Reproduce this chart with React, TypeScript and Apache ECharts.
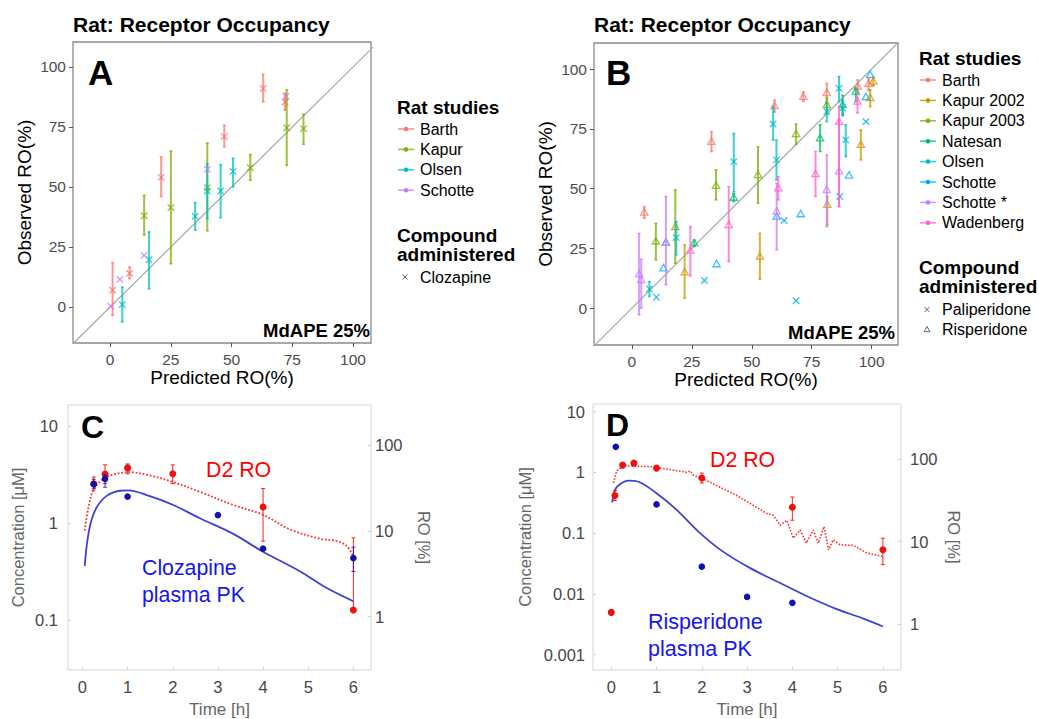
import React, { useEffect, useRef } from "react";
import * as echarts from "echarts";

const FONT = '"Liberation Sans", Arial, Helvetica, sans-serif';

// ---------------- Panel A (clozapine): [predicted, observed, low, high] ----------------
const studiesA = ["Barth", "Kapur", "Olsen", "Schotte"];
const colorsA = ["#F8766D", "#7CAE00", "#00BFC4", "#C77CFF"];
const aBarth = [[1, 7, -3.5, 18.5], [8, 14, 11.8, 16.7], [21, 54, 46, 62.5], [47, 71, 66.7, 75.7], [63, 91, 85.4, 97], [72, 85.4, 82, 89]];
const aKapur = [[14, 38, 30, 46.5], [25, 41.4, 18, 65], [40, 49.7, 31.7, 68.3], [57.7, 58, 52.8, 63.5], [72.7, 74.7, 59, 90.5], [79.6, 74.3, 67.8, 80.3]];
const aOlsen = [[5, 1, -6.2, 8.3], [16, 19.7, 7.6, 31.3], [35, 37.8, 32, 43.5], [40, 48.3, 36.8, 59.7], [45.5, 48.3, 37.2, 59.3], [50.6, 56.5, 50, 62]];
const aSchotte = [[0.3, 0.3, 0.3, 0.3], [4, 11.5, 11.5, 11.5], [14, 21.5, 21.5, 21.5], [40, 57.4, 57.4, 57.4], [72.4, 87.8, 87.8, 87.8]];
const aRows = [aBarth, aKapur, aOlsen, aSchotte];
const compoundsA = ["Clozapine"];

// ---------------- Panel B: [predicted, observed, low, high, compound (0 = paliperidone, 1 = risperidone)] ----------------
const studiesB = ["Barth", "Kapur 2002", "Kapur 2003", "Natesan", "Olsen", "Schotte", "Schotte *", "Wadenberg"];
const colorsB = ["#F8766D", "#CD9600", "#7CAE00", "#00BE67", "#00BFC4", "#00A9FF", "#C77CFF", "#FF61CC"];
const bBarth = [[5.2, 40, 37.6, 42.5, 1], [33.2, 69.6, 65.5, 73.8, 1], [59.5, 84.5, 82, 87, 1], [71.5, 88.4, 86.5, 90.5, 1], [81.3, 90, 86, 94, 1], [94.2, 92.7, 90, 95.5, 1], [98.7, 93.8, 91, 96, 1]];
const bKapur2002 = [[22, 15, 4.2, 26.5, 1], [53.4, 21.6, 12.1, 31.3, 1], [81.5, 43.2, 34.9, 46.7, 1], [95.5, 68.3, 62, 74.6, 1], [99.4, 87.9, 84.3, 91.3, 1], [100.7, 94.8, 93, 96.5, 1]];
const bKapur2003 = [[10, 27.9, 20.2, 35.5, 1], [18.1, 33.9, 18.8, 49.5, 1], [35.1, 51.2, 45.3, 57.9, 1], [52.6, 55.7, 43.9, 67.5, 1], [68.5, 72.8, 68.5, 77, 1], [81.3, 85, 81, 88, 1]];
const bNatesan = [[26, 27.2, 25.8, 28.5, 1], [42.5, 46.2, 44.6, 48, 1], [78.5, 71, 65.5, 76.7, 1], [87.9, 85, 81, 89, 1], [93.4, 90.6, 86.4, 92, 1]];
const bOlsen = [[7.3, 8, 4.9, 11.1, 0], [18.5, 29.5, 22.3, 36.2, 0], [42.5, 61.3, 48.7, 73.1, 0], [58.9, 77, 70.3, 84.3, 0], [60.3, 62, 53.6, 70.3, 0], [81.3, 82.2, 78, 85.8, 0], [86.4, 92, 86.4, 96.9, 0], [87.9, 83.7, 80.5, 87, 0], [89.2, 70.4, 63.4, 76.7, 0]];
const bSchotte = [[10.2, 4.6, 4.6, 4.6, 0], [13.2, 16.7, 16.7, 16.7, 1], [14.2, 27.4, 27.4, 27.4, 1], [30.3, 11.6, 11.6, 11.6, 0], [35.3, 18.4, 18.4, 18.4, 1], [60.4, 38.3, 38.3, 38.3, 1], [63.5, 36.6, 36.6, 36.6, 0], [68.5, 3.1, 3.1, 3.1, 0], [70.4, 39.3, 39.3, 39.3, 1], [86.7, 46.7, 46.7, 46.7, 0], [90.6, 55.5, 55.5, 55.5, 1], [97.6, 78, 78, 78, 0], [97.6, 88.3, 88.3, 88.3, 1], [99.4, 97.6, 97.6, 97.6, 1]];
const bSchotteStar = [[3, 14.3, -2.8, 31.3, 1], [3.9, 11.8, 0, 20.5, 1], [14.2, 27.4, 9.8, 46.7, 1], [60.4, 40.4, 24.4, 52.2, 1], [81.3, 49.4, 34.1, 64.1, 1], [86.4, 57.2, 42.5, 78.8, 1]];
const bWadenberg = [[24.4, 24.1, 13.5, 34.1, 1], [40.4, 34.8, 19.5, 50.8, 1], [61.1, 50.1, 45.3, 55, 1], [76.6, 56.1, 46.7, 65.5, 1], [86.4, 78, 42.5, 84.3, 1], [94.1, 86.4, 81.6, 90, 1]];
const bRows = [bBarth, bKapur2002, bKapur2003, bNatesan, bOlsen, bSchotte, bSchotteStar, bWadenberg];
const compoundsB = ["Paliperidone", "Risperidone"];

const identityLine = [-20, 120];
const roTicks = [0, 25, 50, 75, 100];

// ---------------- Panel C (clozapine PK / D2 RO) ----------------
const cTimeRO = [0.25, 0.5, 1, 2, 4, 6];
const cRO = [35.6, 46, 54.4, 46.4, 19, 1.19];
const cROlo = [29.9, 35.6, 46.4, 35.6, 7.6, 1.19];
const cROhi = [42.6, 59, 60.5, 59, 31.2, 8.3];
const cTimePK = [0.25, 0.5, 1, 3, 4, 6];
const cPK = [2.54, 2.88, 1.89, 1.22, 0.55, 0.44];
const cPKlo = [2.3, 2.36, 1.89, 1.22, 0.55, 0.32];
const cPKhi = [2.85, 3.16, 1.89, 1.22, 0.55, 0.57];
const cModelT = [0.05, 0.1, 0.18, 0.31, 0.53, 0.83, 1.01, 1.49, 2.01, 2.6, 3.34, 4, 4.82, 5.41, 6];
const cModelConc = [0.365, 0.62, 1.0, 1.45, 1.91, 2.17, 2.19, 1.91, 1.55, 1.13, 0.78, 0.51, 0.32, 0.216, 0.158];
const cModelROT = [0.05, 0.13, 0.24, 0.46, 0.75, 1.05, 1.49, 2.01, 2.6, 3.34, 4, 4.6, 5.26, 5.63, 5.85, 6];
const cModelRO = [10.1, 18.4, 29.8, 40.6, 46.4, 48.5, 44.4, 37.2, 28.6, 20.1, 15.4, 10.4, 8.1, 7.6, 6.7, 5.0];

// ---------------- Panel D (risperidone PK / D2 RO) ----------------
const dTimeRO = [0, 0.08, 0.25, 0.5, 1, 2, 4, 6];
const dRO = [1.38, 36.3, 85, 89.8, 78.2, 59.3, 26.1, 7.95];
const dROlo = [1.38, 31.6, 85, 89.8, 78.2, 51.6, 18.2, 5.25];
const dROhi = [1.38, 41.7, 85, 89.8, 78.2, 68, 34.8, 11];
const dTimePK = [0.1, 1, 2, 3, 4];
const dPK = [2.63, 0.296, 0.028, 0.0089, 0.0071];
const dModelT = [0.02, 0.09, 0.2, 0.38, 0.6, 0.97, 1.42, 1.93, 2.46, 3.05, 3.72, 4.3, 4.98, 5.57, 6];
const dModelConc = [0.32, 0.53, 0.645, 0.73, 0.7, 0.47, 0.25, 0.105, 0.05, 0.027, 0.0152, 0.0093, 0.0056, 0.0039, 0.0029];
const dModelROT = [0.05, 0.12, 0.27, 0.93, 1.67, 1.75, 1.8, 2.11, 2.77, 3.44, 3.58, 3.73, 3.88, 4.02, 4.17, 4.31, 4.46, 4.57, 4.7, 4.8, 4.9, 5.06, 5.35, 5.64, 6];
const dModelRO = [51.6, 72.6, 83.4, 81, 69.4, 72, 65, 55, 36.4, 21.9, 20.9, 15.8, 18.2, 11, 13.8, 9.6, 13.8, 9.6, 15.2, 7.9, 10.5, 9.1, 9, 7.3, 6.6];

const timeTicks = [0, 1, 2, 3, 4, 5, 6];
const cConcTicks = [0.1, 1, 10];
const dConcTicks = [0.001, 0.01, 0.1, 1, 10];
const roLogTicks = [1, 10, 100];

const L = (v: number) => Math.log10(v);

function pointRange(name: string, rows: number[][], color: string, xi: number, yi: number, st: any) {
  return {
    type: "custom",
    name,
    xAxisIndex: xi,
    yAxisIndex: yi,
    clip: true,
    z: st.z ?? 3,
    data: rows,
    encode: { x: 0, y: 1 },
    renderItem: (_p: any, api: any) => {
      const x = api.value(0);
      const y = api.value(1);
      const lo = api.value(2);
      const hi = api.value(3);
      const kind = st.marker != null ? st.marker : api.value(4);
      const p = api.coord([x, y]);
      const ch: any[] = [];
      if (hi - lo > 1e-6) {
        const a = api.coord([x, lo]);
        const b = api.coord([x, hi]);
        ch.push({ type: "line", shape: { x1: a[0], y1: a[1], x2: b[0], y2: b[1] }, style: { stroke: color, lineWidth: st.barW, opacity: st.alpha } });
        [a, b].forEach((e: number[]) =>
          ch.push({ type: "line", shape: { x1: e[0] - st.cap, y1: e[1], x2: e[0] + st.cap, y2: e[1] }, style: { stroke: color, lineWidth: st.capW, opacity: st.alpha } })
        );
      }
      const s = st.size;
      if (kind === 0) {
        ch.push({ type: "line", shape: { x1: p[0] - s, y1: p[1] - s, x2: p[0] + s, y2: p[1] + s }, style: { stroke: color, lineWidth: 1.4, opacity: st.alpha } });
        ch.push({ type: "line", shape: { x1: p[0] - s, y1: p[1] + s, x2: p[0] + s, y2: p[1] - s }, style: { stroke: color, lineWidth: 1.4, opacity: st.alpha } });
      } else if (kind === 1) {
        ch.push({
          type: "polygon",
          shape: { points: [[p[0], p[1] - s * 1.2], [p[0] - s * 1.15, p[1] + s * 0.8], [p[0] + s * 1.15, p[1] + s * 0.8]] },
          style: { fill: "none", stroke: color, lineWidth: 1.3, opacity: st.alpha },
        });
      } else {
        ch.push({ type: "circle", shape: { cx: p[0], cy: p[1], r: s }, style: { fill: color } });
      }
      return { type: "group", children: ch };
    },
  };
}

function logFormatter(ticks: number[]) {
  return (v: number) => {
    const t = ticks.find((k) => Math.abs(L(k) - v) < 1e-6);
    return t != null ? String(t) : "";
  };
}

const hiddenLine = { show: false, onZero: false };

function roAxis(gridIndex: number, min: number, max: number, name: string, vertical: boolean) {
  return {
    type: "value",
    gridIndex,
    min,
    max,
    axisLine: hiddenLine,
    splitLine: { show: false },
    axisTick: { show: true, length: 4, lineStyle: { color: "#555", width: 1 }, customValues: roTicks },
    axisLabel: { customValues: roTicks, color: "#4D4D4D", fontSize: 15.5, fontFamily: FONT, margin: vertical ? 7 : 8 },
    name,
    nameLocation: "middle",
    nameGap: vertical ? 39 : 25,
    nameTextStyle: { color: "#000", fontSize: 19, fontFamily: FONT },
  };
}

function logAxis(gridIndex: number, min: number, max: number, ticks: number[], name: string, right: boolean, gap: number, margin: number) {
  const vals = ticks.map(L);
  return {
    type: "value",
    gridIndex,
    position: right ? "right" : "left",
    min,
    max,
    axisLine: hiddenLine,
    splitLine: { show: false },
    axisTick: { show: true, inside: true, length: 3, customValues: vals, lineStyle: { color: "#d0d0d0" } },
    axisLabel: { customValues: vals, formatter: logFormatter(ticks), color: "#474747", fontSize: 16.5, fontFamily: FONT, margin },
    name,
    nameLocation: "middle",
    nameGap: gap,
    nameRotate: right ? -90 : 90,
    nameTextStyle: { color: "#666", fontSize: 16.5, fontFamily: FONT },
  };
}

function timeAxis(gridIndex: number, min: number, max: number) {
  return {
    type: "value",
    gridIndex,
    min,
    max,
    axisLine: hiddenLine,
    splitLine: { show: false },
    axisTick: { show: true, inside: true, length: 3, customValues: timeTicks, lineStyle: { color: "#d0d0d0" } },
    axisLabel: { customValues: timeTicks, color: "#474747", fontSize: 16.5, fontFamily: FONT, margin: 8 },
    name: "Time [h]",
    nameLocation: "middle",
    nameGap: 31,
    nameTextStyle: { color: "#666", fontSize: 17, fontFamily: FONT },
  };
}

function text(x: number, y: number, t: string, size: number, opts: any = {}) {
  return {
    type: "text",
    x,
    y,
    silent: true,
    style: {
      text: t,
      fontSize: size,
      fontFamily: FONT,
      fontWeight: opts.bold ? "bold" : "normal",
      fill: opts.fill ?? "#000",
      align: opts.align ?? "left",
      verticalAlign: "middle",
    },
  };
}

function legend(x: number, titleY: number, names: string[], colors: string[], itemY0: number, step: number, compTitleY: number, compounds: string[], compY0: number, compStep: number, markers: number[]) {
  const els: any[] = [];
  els.push(text(x, titleY, "Rat studies", 19, { bold: true }));
  names.forEach((n, i) => {
    const y = itemY0 + i * step;
    els.push({ type: "line", silent: true, shape: { x1: x + 1, y1: y, x2: x + 17, y2: y }, style: { stroke: colors[i], lineWidth: 1.5, opacity: 0.8 } });
    els.push({ type: "circle", silent: true, shape: { cx: x + 9, cy: y, r: 2.3 }, style: { fill: colors[i] } });
    els.push(text(x + 23, y, n, 16));
  });
  els.push(text(x, compTitleY, "Compound", 19, { bold: true }));
  els.push(text(x, compTitleY + 19.5, "administered", 19, { bold: true }));
  compounds.forEach((c, i) => {
    const y = compY0 + i * compStep;
    const cx = x + 8;
    if (markers[i] === 0) {
      els.push({ type: "line", silent: true, shape: { x1: cx - 2.5, y1: y - 2.5, x2: cx + 2.5, y2: y + 2.5 }, style: { stroke: "#666", lineWidth: 1 } });
      els.push({ type: "line", silent: true, shape: { x1: cx - 2.5, y1: y + 2.5, x2: cx + 2.5, y2: y - 2.5 }, style: { stroke: "#666", lineWidth: 1 } });
    } else {
      els.push({ type: "polygon", silent: true, shape: { points: [[cx, y - 3], [cx - 3, y + 2.2], [cx + 3, y + 2.2]] }, style: { fill: "none", stroke: "#666", lineWidth: 1 } });
    }
    els.push(text(x + 23, y, c, 16));
  });
  return els;
}

export default function App() {
  const ref = useRef<HTMLDivElement>(null);
  useEffect(() => {
    document.body.style.margin = "0";
    const chart = echarts.init(ref.current!, null, { renderer: "svg" });

    const abStyle = { barW: 2, cap: 1.5, capW: 1.5, size: 3.2, alpha: 0.75 };
    const series: any[] = [];
    series.push({ type: "line", xAxisIndex: 0, yAxisIndex: 0, silent: true, symbol: "none", clip: true, data: identityLine.map((v) => [v, v]), lineStyle: { color: "#A8A8A8", width: 1.2 }, z: 1 });
    series.push({ type: "line", xAxisIndex: 1, yAxisIndex: 1, silent: true, symbol: "none", clip: true, data: identityLine.map((v) => [v, v]), lineStyle: { color: "#A8A8A8", width: 1.2 }, z: 1 });
    studiesA.forEach((n, i) => series.push(pointRange(n, aRows[i], colorsA[i], 0, 0, { ...abStyle, marker: 0 })));
    studiesB.forEach((n, i) => series.push(pointRange(n, bRows[i], colorsB[i], 1, 1, abStyle)));

    // Panel C
    series.push({ type: "line", name: "Clozapine plasma PK", xAxisIndex: 2, yAxisIndex: 2, symbol: "none", smooth: 0.35, data: cModelT.map((t, i) => [t, L(cModelConc[i])]), lineStyle: { color: "#4040D8", width: 1.8 }, z: 2 });
    series.push({ type: "line", name: "D2 RO model", xAxisIndex: 2, yAxisIndex: 3, symbol: "none", smooth: 0.35, data: cModelROT.map((t, i) => [t, L(cModelRO[i])]), lineStyle: { color: "#FF3030", width: 1.8, type: "dotted" }, z: 2 });
    series.push(pointRange("Clozapine conc.", cTimePK.map((t, i) => [t, L(cPK[i]), L(cPKlo[i]), L(cPKhi[i])]), "#1010B0", 2, 2, { barW: 1, cap: 2, capW: 1, size: 3.3, alpha: 0.8, marker: 2, z: 4 }));
    series.push(pointRange("D2 RO", cTimeRO.map((t, i) => [t, L(cRO[i]), L(cROlo[i]), L(cROhi[i])]), "#F01010", 2, 3, { barW: 1, cap: 2, capW: 1, size: 3.5, alpha: 0.9, marker: 2, z: 3 }));

    // Panel D
    series.push({ type: "line", name: "Risperidone plasma PK", xAxisIndex: 3, yAxisIndex: 4, symbol: "none", smooth: 0.35, data: dModelT.map((t, i) => [t, L(dModelConc[i])]), lineStyle: { color: "#4040D8", width: 1.8 }, z: 2 });
    series.push({ type: "line", name: "D2 RO model ", xAxisIndex: 3, yAxisIndex: 5, symbol: "none", data: dModelROT.map((t, i) => [t, L(dModelRO[i])]), lineStyle: { color: "#FF3030", width: 1.6, type: "dotted" }, z: 2 });
    series.push(pointRange("Risperidone conc.", dTimePK.map((t, i) => [t, L(dPK[i]), L(dPK[i]), L(dPK[i])]), "#1010B0", 3, 4, { barW: 1, cap: 2, capW: 1, size: 3.3, alpha: 0.8, marker: 2, z: 4 }));
    series.push(pointRange("D2 RO ", dTimeRO.map((t, i) => [t, L(dRO[i]), L(dROlo[i]), L(dROhi[i])]), "#F01010", 3, 5, { barW: 1, cap: 2, capW: 1, size: 3.5, alpha: 0.9, marker: 2, z: 3 }));

    const graphic: any[] = [
      text(73, 24, "Rat: Receptor Occupancy", 21, { bold: true }),
      text(594, 24, "Rat: Receptor Occupancy", 21, { bold: true }),
      text(88, 72, "A", 35, { bold: true }),
      text(606, 72, "B", 35, { bold: true }),
      text(370, 330, "MdAPE 25%", 18.5, { bold: true, align: "right" }),
      text(895, 332, "MdAPE 25%", 18.5, { bold: true, align: "right" }),
      text(81, 427, "C", 32, { bold: true }),
      text(606, 425, "D", 32, { bold: true }),
      text(206, 470, "D2 RO", 21.3, { fill: "#FF0000" }),
      text(142, 568, "Clozapine", 21.3, { fill: "#1515F0" }),
      text(142, 595, "plasma PK", 21.3, { fill: "#1515F0" }),
      text(710, 460, "D2 RO", 21.3, { fill: "#FF0000" }),
      text(648, 622, "Risperidone", 21.5, { fill: "#1515F0" }),
      text(648, 649, "plasma PK", 21.5, { fill: "#1515F0" }),
      ...legend(397, 107, studiesA, colorsA, 129, 20.4, 235, compoundsA, 277, 20, [0]),
      ...legend(919, 58, studiesB, colorsB, 80, 20.4, 267, compoundsB, 309.5, 20, [0, 1]),
    ];

    const option: any = {
      animation: false,
      backgroundColor: "#fff",
      textStyle: { fontFamily: FONT },
      grid: [
        { left: 73, top: 42, width: 298, height: 301, show: true, borderColor: "#8A8A8A", borderWidth: 1.3, backgroundColor: "transparent" },
        { left: 594, top: 43, width: 304, height: 302, show: true, borderColor: "#8A8A8A", borderWidth: 1.3, backgroundColor: "transparent" },
        { left: 68, top: 405, width: 303, height: 269, show: true, borderColor: "#D6D6D6", borderWidth: 1, backgroundColor: "transparent" },
        { left: 593, top: 404, width: 308, height: 269, show: true, borderColor: "#D6D6D6", borderWidth: 1, backgroundColor: "transparent" },
      ],
      xAxis: [
        roAxis(0, -15.3, 107.4, "Predicted RO(%)", false),
        roAxis(1, -15.8, 111, "Predicted RO(%)", false),
        timeAxis(2, -0.32, 6.39),
        timeAxis(3, -0.404, 6.4),
      ],
      yAxis: [
        roAxis(0, -15, 110.4, "Observed RO(%)", true),
        roAxis(1, -15.4, 110.9, "Observed RO(%)", true),
        logAxis(2, -1.51, 1.22, cConcTicks, "Concentration [μM]", false, 42, 10),
        logAxis(2, -0.624, 2.47, roLogTicks, "RO [%]", true, 44, 4),
        logAxis(3, -3.254, 1.125, dConcTicks, "Concentration [μM]", false, 60, 8),
        logAxis(3, -0.56, 2.672, roLogTicks, "RO [%]", true, 44, 9),
      ],
      series,
      graphic,
    };
    chart.setOption(option);
    return () => chart.dispose();
  }, []);
  return <div ref={ref} style={{ width: 1039, height: 719 }} />;
}
